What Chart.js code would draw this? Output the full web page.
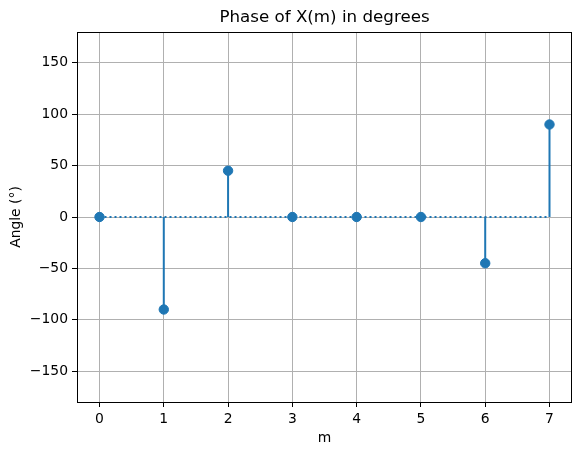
<!DOCTYPE html>
<html>
<head>
<meta charset="utf-8">
<script src="https://cdn.jsdelivr.net/npm/chart.js@4"></script>
<style>
  html, body { margin: 0; padding: 0; background: #fff; }
</style>
</head>
<body>
<canvas id="phase" width="583" height="455"></canvas>
<script>
// values
var mValues = [0, 1, 2, 3, 4, 5, 6, 7];
var phaseDeg = [0, -90, 45, 0, 0, 0, -45, 90];
var xTicks = [0, 1, 2, 3, 4, 5, 6, 7];
var yTicks = [-150, -100, -50, 0, 50, 100, 150];

var blue = "#1f77b4";
var font = "DejaVu Sans";

// one short line per stem, from 0 up (or down) to the value
var stemSets = mValues.map(function(m, i) {
  return {
    type: "scatter",
    data: [{ x: m, y: 0 }, { x: m, y: phaseDeg[i] }],
    showLine: true,
    borderColor: blue,
    borderWidth: 2,
    pointRadius: 0,
    order: 1
  };
});

var baseline = {
  type: "scatter",
  data: [{ x: mValues[0], y: 0 }, { x: mValues[mValues.length - 1], y: 0 }],
  showLine: true,
  borderColor: blue,
  borderWidth: 2,
  borderDash: [2, 3],
  pointRadius: 0,
  order: 2
};

var markers = {
  type: "scatter",
  data: mValues.map(function(m, i) { return { x: m, y: phaseDeg[i] }; }),
  showLine: false,
  backgroundColor: blue,
  borderColor: blue,
  pointRadius: 4.7,
  pointHoverRadius: 4.7,
  order: 0
};

// title over the plot area and black frame round it
var framePlugin = {
  id: "frame",
  afterDraw: function(chart) {
    var a = chart.chartArea;
    var ctx = chart.ctx;
    ctx.save();
    ctx.strokeStyle = "#000";
    ctx.lineWidth = 1;
    ctx.strokeRect(Math.round(a.left) + 0.5, Math.round(a.top) + 0.5,
      Math.round(a.right - a.left) - 1, Math.round(a.bottom - a.top));
    ctx.fillStyle = "#000";
    ctx.font = "16.7px '" + font + "'";
    ctx.textAlign = "center";
    ctx.textBaseline = "middle";
    ctx.fillText("Phase of X(m) in degrees", (a.left + a.right) / 2, 18);
    ctx.restore();
  }
};

function minus(v) {
  return String(v).replace("-", "\u2212");
}

new Chart(document.getElementById("phase").getContext("2d"), {
  type: "scatter",
  data: { datasets: [markers].concat(stemSets, [baseline]) },
  options: {
    responsive: false,
    animation: false,
    events: [],
    layout: { padding: { top: 32, right: 11, left: 0, bottom: 0 } },
    plugins: {
      legend: { display: false },
      tooltip: { enabled: false },
      title: { display: false }
    },
    scales: {
      x: {
        type: "linear",
        min: -0.35,
        max: 7.35,
        afterBuildTicks: function(s) { s.ticks = xTicks.map(function(v) { return { value: v }; }); },
        afterFit: function(s) { s.height = 53; },
        grid: { color: "#b0b0b0", lineWidth: 1, tickColor: "#000", tickLength: 5, drawTicks: true },
        border: { display: false },
        ticks: { color: "#000", padding: 4, font: { family: font, size: 13.9 }, maxRotation: 0, callback: function(v) { return minus(v); } },
        title: { display: true, text: "m", color: "#000", font: { family: font, size: 13.9 }, padding: { top: 0, bottom: 8 } }
      },
      y: {
        type: "linear",
        min: -180,
        max: 180,
        afterBuildTicks: function(s) { s.ticks = yTicks.map(function(v) { return { value: v }; }); },
        afterFit: function(s) { s.width = 77; },
        grid: { color: "#b0b0b0", lineWidth: 1, tickColor: "#000", tickLength: 5, drawTicks: true },
        border: { display: false },
        ticks: { color: "#000", padding: 4, font: { family: font, size: 13.9 }, callback: function(v) { return minus(v); } },
        title: { display: true, text: "Angle (°)", color: "#000", font: { family: font, size: 13.9 }, padding: { top: 8, bottom: 0 } }
      }
    }
  },
  plugins: [framePlugin]
});
</script>
</body>
</html>
